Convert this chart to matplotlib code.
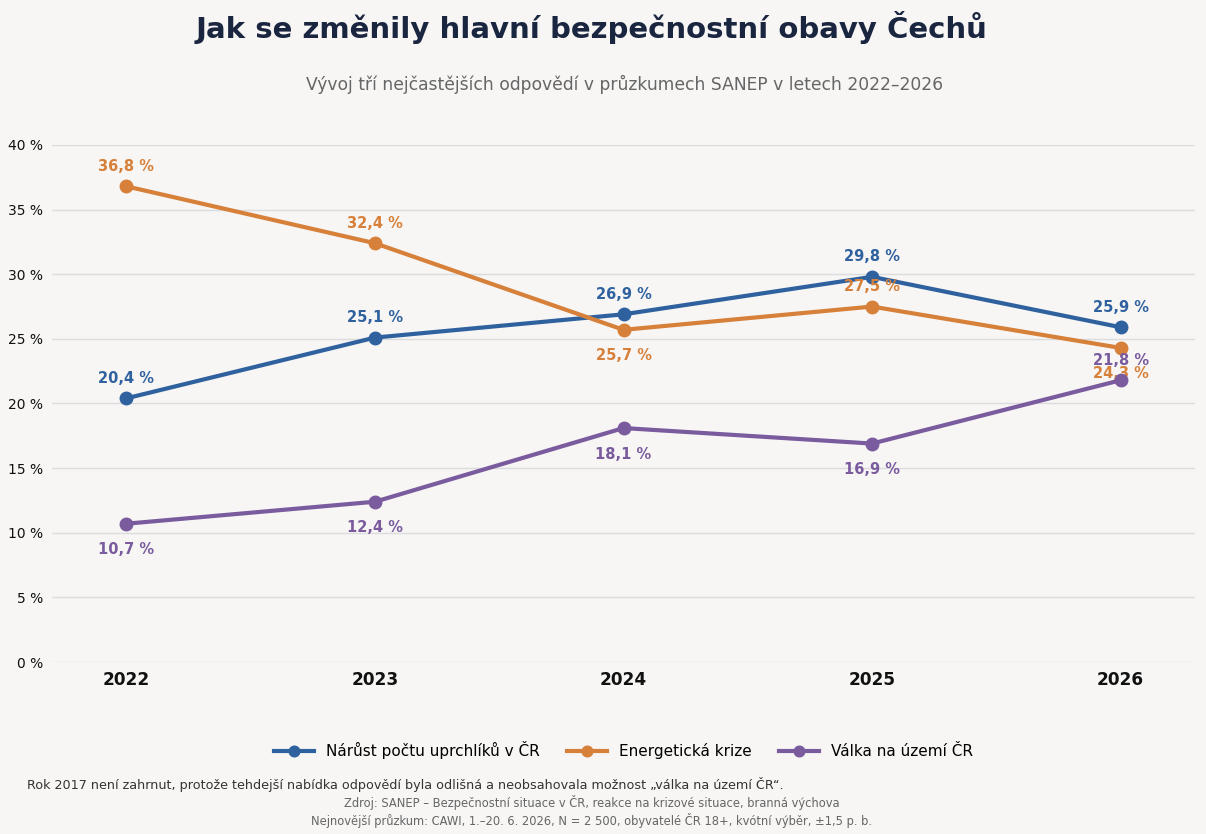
import matplotlib.pyplot as plt
import numpy as np


years = [2022, 2023, 2024, 2025, 2026]
uprchlici = [20.4, 25.1, 26.9, 29.8, 25.9]
energie = [36.8, 32.4, 25.7, 27.5, 24.3]
valka = [10.7, 12.4, 18.1, 16.9, 21.8]

series_names = ["Nárůst počtu uprchlíků v ČR", "Energetická krize", "Válka na území ČR"]
# +1 = popisek nad bodem, -1 = pod bodem
label_side = [
  [1, 1, 1, 1, 1],
  [1, 1, -1, 1, -1],
  [-1, -1, -1, -1, 1],
]

colors = ["#30619f", "#d7803a", "#7a5b9e"]
bg = "#f7f6f5"


def fmt(v):
  return f"{v:.1f}".replace(".", ",") + " %"


fig = plt.figure(figsize=(12.06, 8.34), dpi=100, facecolor=bg)
ax = fig.add_axes([0.043, 1 - 662 / 834, 0.948, (662 - 145) / 834])
ax.set_facecolor(bg)

for name, vals, col, sides in zip(series_names, [uprchlici, energie, valka], colors, label_side):
  ax.plot(years, vals, color=col, lw=3, marker="o", ms=9, label=name, clip_on=False, zorder=3)
  for x, v, s in zip(years, vals, sides):
    off = 14.4 if s > 0 else -18.7
    ax.annotate(fmt(v), (x, v), xytext=(0, off), textcoords="offset points",
                ha="center", va="center", fontsize=10.5, fontweight="bold", color=col)

ax.set_xlim(2021.7, 2026.3)
ax.set_ylim(0, 40)
ax.set_xticks(years)
ax.set_xticklabels([str(y) for y in years], fontsize=12.2, fontweight="bold")
ax.set_yticks(np.arange(0, 41, 5))
ax.set_yticklabels([f"{t} %" for t in range(0, 41, 5)], fontsize=10)
ax.tick_params(axis="both", length=0, colors="#111111")
ax.tick_params(axis="x", pad=6.5)
ax.tick_params(axis="y", pad=6.5)
ax.grid(axis="y", color="#dcdcdc", lw=1)
ax.set_axisbelow(True)
for sp in ax.spines.values():
  sp.set_visible(False)

fig.text(0.4905, 1 - 27 / 834, "Jak se změnily hlavní bezpečnostní obavy Čechů",
         ha="center", va="center", fontsize=21, fontweight="bold", color="#1a2540")
fig.text(0.518, 1 - 84 / 834, "Vývoj tří nejčastějších odpovědí v průzkumech SANEP v letech 2022–2026",
         ha="center", va="center", fontsize=12.3, color="#666666")

fig.legend(loc="center", bbox_to_anchor=(0.517, 1 - 750 / 834), ncol=3, frameon=False,
           fontsize=11, handlelength=2.6, columnspacing=1.8, markerscale=0.85)

fig.text(27 / 1206, 1 - 785 / 834,
         "Rok 2017 není zahrnut, protože tehdejší nabídka odpovědí byla odlišná a neobsahovala možnost „válka na území ČR“.",
         ha="left", va="center", fontsize=9.2, color="#333333")
fig.text(591.5 / 1206, 1 - 802 / 834,
         "Zdroj: SANEP – Bezpečnostní situace v ČR, reakce na krizové situace, branná výchova",
         ha="center", va="center", fontsize=8.3, color="#666666")
fig.text(591.5 / 1206, 1 - 820 / 834,
         "Nejnovější průzkum: CAWI, 1.–20. 6. 2026, N = 2 500, obyvatelé ČR 18+, kvótní výběr, ±1,5 p. b.",
         ha="center", va="center", fontsize=8.3, color="#666666")

plt.savefig("out.png", dpi=100, facecolor=bg)
